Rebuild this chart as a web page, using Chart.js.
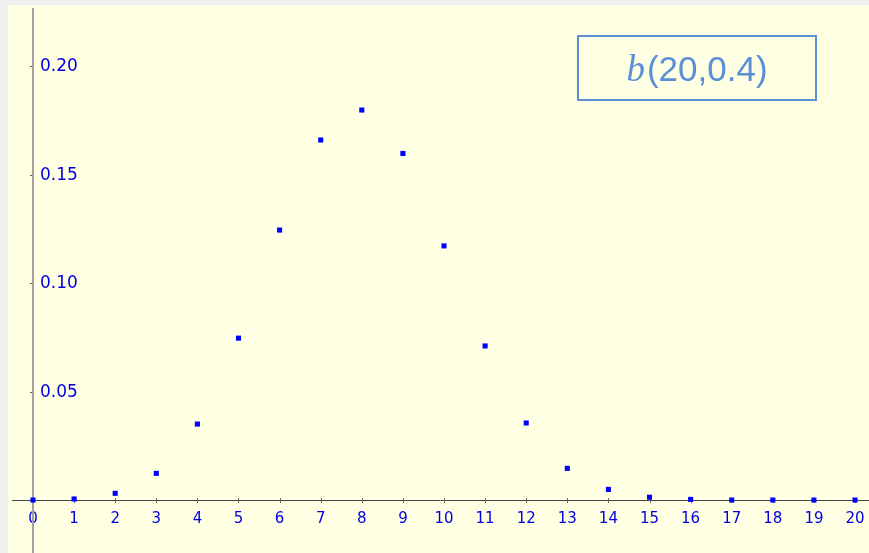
<!DOCTYPE html>
<html>
<head>
<meta charset="utf-8">
<script src="https://cdn.jsdelivr.net/npm/chart.js@4/dist/chart.umd.min.js"></script>
<style>
  html, body { margin: 0; padding: 0; background: #f0f0f0; width: 869px; height: 553px; overflow: hidden; }
  #wrap { position: absolute; left: 8px; top: 5px; width: 861px; height: 548px; background: #ffffe4; }
  canvas { display: block; }
</style>
</head>
<body>
<div id="wrap"><canvas id="c" width="861" height="548"></canvas></div>
<script>
// Data: b(20, 0.4) probabilities
const kValues = [0, 1, 2, 3, 4, 5, 6, 7, 8, 9, 10, 11, 12, 13, 14, 15, 16, 17, 18, 19, 20];
const probabilities = [0.0000, 0.0005, 0.0031, 0.0123, 0.0350, 0.0746, 0.1244, 0.1659, 0.1797, 0.1597,
                       0.1171, 0.0710, 0.0355, 0.0146, 0.0049, 0.0013, 0.0003, 0.0000, 0.0000, 0.0000, 0.0000];
const xTickValues = [0, 1, 2, 3, 4, 5, 6, 7, 8, 9, 10, 11, 12, 13, 14, 15, 16, 17, 18, 19, 20];
const yTickValues = [0.05, 0.10, 0.15, 0.20];
const yTickLabels = ["0.05", "0.10", "0.15", "0.20"];
const legendLabelItalic = "b";
const legendLabelRest = "(20,0.4)";

const axesPlugin = {
  id: 'axesPlugin',
  beforeDatasetsDraw(chart) {
    const ctx = chart.ctx;
    const xs = chart.scales.x, ys = chart.scales.y;
    const x0 = xs.getPixelForValue(0);
    const y0 = ys.getPixelForValue(0);
    ctx.save();
    // x tick labels
    ctx.fillStyle = '#0000e0';
    ctx.font = '15px "DejaVu Sans"';
    ctx.textAlign = 'center';
    ctx.textBaseline = 'middle';
    xTickValues.forEach(v => {
      ctx.fillText(String(v), xs.getPixelForValue(v), y0 + 19);
    });
    // y tick labels
    ctx.font = '17px "DejaVu Sans"';
    ctx.textAlign = 'left';
    yTickValues.forEach((v, i) => {
      ctx.fillText(yTickLabels[i], x0 + 7, ys.getPixelForValue(v) + 1);
    });
    // x axis line
    ctx.strokeStyle = '#444444';
    ctx.lineWidth = 1;
    ctx.beginPath();
    ctx.moveTo(4, Math.round(y0) + 0.5);
    ctx.lineTo(chart.width, Math.round(y0) + 0.5);
    ctx.stroke();
    // x tick marks
    ctx.strokeStyle = '#666666';
    xTickValues.forEach(v => {
      const px = Math.round(xs.getPixelForValue(v)) + 0.5;
      ctx.beginPath();
      ctx.moveTo(px, y0 - 2);
      ctx.lineTo(px, y0 + 3);
      ctx.stroke();
    });
    // y tick marks
    yTickValues.forEach(v => {
      const py = Math.round(ys.getPixelForValue(v)) + 0.5;
      ctx.beginPath();
      ctx.moveTo(x0 - 3, py);
      ctx.lineTo(x0, py);
      ctx.stroke();
    });
    // y axis line
    ctx.strokeStyle = '#a0a0a0';
    ctx.lineWidth = 2;
    ctx.beginPath();
    ctx.moveTo(x0, 3);
    ctx.lineTo(x0, chart.height);
    ctx.stroke();
    ctx.restore();
  },
  afterDraw(chart) {
    const ctx = chart.ctx;
    ctx.save();
    // legend box
    const bx = 570, by = 31, bw = 238, bh = 64;
    ctx.strokeStyle = '#5b8fd8';
    ctx.lineWidth = 2;
    ctx.strokeRect(bx, by, bw, bh);
    ctx.fillStyle = '#5b8fd8';
    ctx.textBaseline = 'alphabetic';
    ctx.textAlign = 'left';
    const fItal = 'italic 37px "Liberation Serif"';
    const fRest = '35px "Liberation Sans"';
    ctx.font = fItal;
    const w1 = ctx.measureText(legendLabelItalic).width;
    ctx.font = fRest;
    const w2 = ctx.measureText(legendLabelRest).width;
    const start = bx + bw / 2 - (w1 + w2 + 2) / 2;
    const base = by + bh / 2 + 13;
    ctx.font = fItal;
    ctx.fillText(legendLabelItalic, start, base);
    ctx.font = fRest;
    ctx.fillText(legendLabelRest, start + w1 + 2, base);
    ctx.restore();
  }
};

new Chart(document.getElementById('c'), {
  type: 'scatter',
  data: {
    datasets: [{
      data: kValues.map((k, i) => ({ x: k, y: probabilities[i] })),
      pointStyle: 'rect',
      pointRadius: 3.6,
      pointBorderWidth: 0,
      backgroundColor: '#0000ff',
      borderColor: '#0000ff',
      showLine: false,
      clip: false
    }]
  },
  options: {
    responsive: false,
    animation: false,
    layout: { padding: 0, autoPadding: false },
    plugins: { legend: { display: false }, tooltip: { enabled: false } },
    scales: {
      x: { type: 'linear', min: -0.608, max: 20.34, display: false },
      y: { type: 'linear', min: -0.0244, max: 0.2281, display: false }
    }
  },
  plugins: [axesPlugin]
});
</script>
</body>
</html>
